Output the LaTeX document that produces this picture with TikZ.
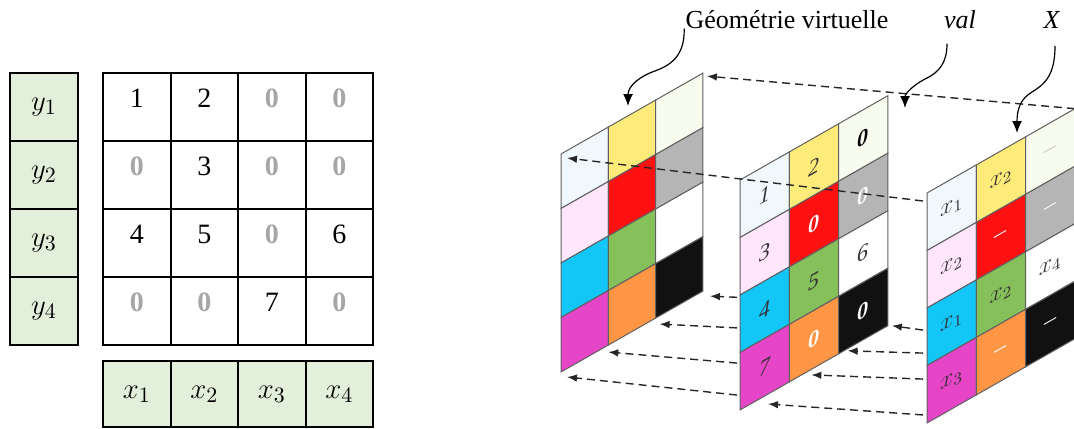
\documentclass[tikz,border=0pt]{standalone}
\usepackage{fontspec}
\setmainfont{Liberation Serif}
\usetikzlibrary{calc,arrows.meta}

\definecolor{vecgreen}{HTML}{E2EFDA}
\definecolor{zerogray}{HTML}{A6A6A6}
\definecolor{cblue}{HTML}{F0F8FE}
\definecolor{cpink}{HTML}{FFE6FC}
\definecolor{ccyan}{HTML}{12C6F8}
\definecolor{cmagenta}{HTML}{E645C8}
\definecolor{cyellow}{HTML}{FFEB7A}
\definecolor{cred}{HTML}{FF1111}
\definecolor{cgreen}{HTML}{86C05B}
\definecolor{corange}{HTML}{FF9646}
\definecolor{ccream}{HTML}{F8FCEE}
\definecolor{cgray}{HTML}{B5B5B5}
\definecolor{cblack}{HTML}{111111}
\definecolor{dashgray}{HTML}{C8C8C8}

\tikzset{
  veccell/.style={draw, line width=1pt, fill=vecgreen, minimum width=34pt, minimum height=34pt, inner sep=0pt, font=\fontsize{15}{17}\selectfont},
  matcell/.style={draw, line width=1pt, minimum width=33.75pt, minimum height=34pt, inner sep=0pt, text height=6pt, text depth=6pt, font=\fontsize{14}{16}\selectfont},
  gridline/.style={draw=gray!75!black, line width=0.5pt},
  celltext/.style={transform shape, inner sep=0pt},
  proj/.style={->, dash pattern=on 4pt off 2.5pt, line width=0.7pt, black!85},
  curl/.style={->, line width=0.6pt, >={Latex[length=6pt, width=5pt]}},
  toplabel/.style={inner sep=0pt, font=\fontsize{13}{15}\selectfont},
  >={Latex[length=5pt, width=3.8pt]},
}

% coloured 3x4 grid of one panel: #1 prefix, #2 cell width, #3 row height
\newcommand{\colourgrid}[3]{%
  \foreach \c/\r/\cl in {0/0/cblue, 1/0/cyellow, 2/0/ccream, 0/1/cpink, 1/1/cred, 2/1/cgray,
                         0/2/ccyan, 1/2/cgreen, 2/2/white, 0/3/cmagenta, 1/3/corange, 2/3/cblack}
    \draw[gridline, fill=\cl] ({\c*#2},{\r*#3}) rectangle ++(#2,#3);
  \coordinate (#1-tl) at (0,0);
  \coordinate (#1-tr) at ({3*#2},0);
  \coordinate (#1-bl) at (0,{4*#3});
  \foreach \i in {0,...,3}
    \coordinate (#1-b\i) at ({\i*#2},{4*#3});
}

\begin{document}
\begin{tikzpicture}[x=0.5pt, y=-0.5pt]
\useasboundingbox (0,0) rectangle (1074,428);

% y vector
\foreach \r in {1,...,4}
  \node[veccell] (y-\r) at (44, {73+68*(\r-0.5)}) {$y_{\r}$};

% sparse matrix
\foreach \r/\vals in {1/{1,2,0,0}, 2/{0,3,0,0}, 3/{4,5,0,6}, 4/{0,0,7,0}}
  \foreach \v [count=\c] in \vals
    \node[matcell] (m-\r-\c) at ({103+67.5*(\c-0.5)}, {73+68*(\r-0.5)})
      {\ifnum\v=0 \textcolor{zerogray}{\bfseries 0}\else\v\fi};

% x vector
\foreach \c in {1,...,4}
  \node[veccell, minimum width=33.75pt, minimum height=33pt] (x-\c) at ({103+67.5*(\c-0.5)}, 394) {$x_{\c}$};

% virtual geometry
\begin{scope}[shift={(561,154)}, yslant=0.57]
  \colourgrid{g}{47.3}{54.5}
\end{scope}

% val
\begin{scope}[shift={(740,180)}, yslant=0.57]
  \colourgrid{v}{49.3}{57.5}
  \foreach \c/\r/\tc/\t in {0/0/black!80/1, 1/0/black!80/2, 2/0/black/\textbf{0},
                            0/1/black!80/3, 1/1/white/\textbf{0}, 2/1/white/\textbf{0},
                            0/2/black!80/4, 1/2/black!80/5, 2/2/black!80/6,
                            0/3/black!80/7, 1/3/white/\textbf{0}, 2/3/white/\textbf{0}}
    \node[celltext, text=\tc, font=\fontsize{11}{13}\selectfont\itshape] (v-\r-\c)
      at ({49.3*(\c+0.5)},{57.5*(\r+0.5)}) {\t};
\end{scope}

% X
\begin{scope}[shift={(927,193)}, yslant=0.57]
  \colourgrid{p}{49.3}{57.5}
  \foreach \c/\r/\tc/\t in {0/0/black!80/$x_1$, 1/0/black!80/$x_2$, 2/0/dashgray/\textendash,
                            0/1/black!80/$x_2$, 1/1/white/\textendash, 2/1/white/\textendash,
                            0/2/black!80/$x_1$, 1/2/black!80/$x_2$, 2/2/black!80/$x_4$,
                            0/3/black!80/$x_3$, 1/3/white/\textendash, 2/3/white/\textendash}
    \node[celltext, text=\tc, font=\fontsize{12}{14}\selectfont] (p-\r-\c)
      at ({49.3*(\c+0.5)},{57.5*(\r+0.5)}) {\t};
\end{scope}

% projection arrows
\draw[proj] (p-tr) -- ($(g-tr)+(4,3)$);
\draw[proj] ($(p-tl)+(-4,8)$) -- ($(g-tl)+(6,4)$);
\foreach \f/\b/\dx/\dy in {0.49/3/7/5, 0.357/2/4/6, 0.204/1/0/7, 0.065/0/6/5}
  \draw[proj] ($(v-bl)!\f!(v-tl)+(-3,0)$) -- ($(g-b\b)+(\dx,\dy)$);
\foreach \f/\b/\dx/\dy in {0.404/3/4/0, 0.304/2/9/-3, 0.191/1/22/-7, 0.035/0/28/-6}
  \draw[proj] ($(p-bl)!\f!(p-tl)+(-4,0)$) -- ($(v-b\b)+(\dx,\dy)$);

% labels
\node[toplabel] (geo) at (787,20) {Géométrie virtuelle};
\node[toplabel] (val) at (960,20) {\textit{val}};
\node[toplabel] (xlab) at (1052,20) {\textit{X}};
\coordinate (geo-tip) at (628,106);
\coordinate (val-tip) at (905,108);
\coordinate (x-tip) at (1017,133);
\draw[curl] ([shift={(-1,-1)}]geo.south west) .. controls (685,58) and (668,66) .. (655,71)
  .. controls (640,76) and (628,86) .. (geo-tip);
\draw[curl] ([shift={(-13,14)}]val.south) .. controls (947,62) and (940,72) .. (925,79)
  .. controls (912,86) and (905,94) .. (val-tip);
\draw[curl] ([shift={(3,17)}]xlab.south) .. controls (1055,75) and (1045,84) .. (1032,92)
  .. controls (1020,99) and (1017,110) .. (x-tip);
\end{tikzpicture}
\end{document}
